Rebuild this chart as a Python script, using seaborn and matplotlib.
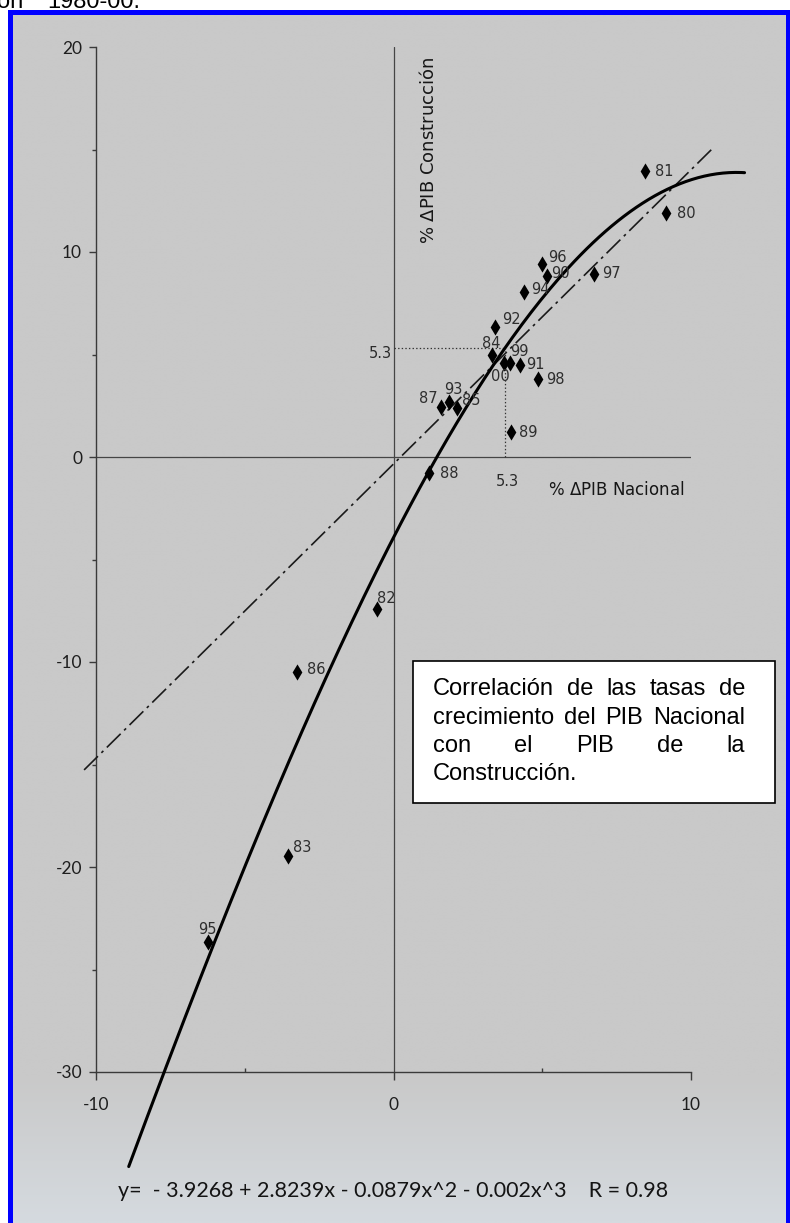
import numpy as np
import pandas as pd
import matplotlib.pyplot as plt
import seaborn as sns
from matplotlib.patches import Rectangle

# values
years = ['80', '81', '82', '83', '84', '85', '86', '87', '88', '89', '90',
         '91', '92', '93', '94', '95', '96', '97', '98', '99', '00']
pib_nacional = [9.15, 8.45, -0.55, -3.55, 3.3, 2.15, -3.25, 1.6, 1.2, 3.95, 5.15,
                4.25, 3.4, 1.85, 4.4, -6.25, 5.0, 6.75, 4.85, 3.9, 3.7]
pib_construccion = [11.9, 13.95, -7.4, -19.45, 5.0, 2.4, -10.5, 2.45, -0.8, 1.2, 8.85,
                    4.5, 6.35, 2.7, 8.05, -23.65, 9.4, 8.95, 3.8, 4.6, 4.6]

# cubic fit printed under the chart, and the dash-dot straight line
cubic_coef = [-3.9268, 2.8239, -0.0879, -0.002]
cubic_range = [-8.9, 11.8]
linear_coef = [-0.34, 1.435]
linear_range = [-10.4, 10.75]
cross_x, cross_y = 3.75, 5.3

box_lines = ['Correlación de las tasas de',
             'crecimiento del PIB Nacional',
             'con el PIB de la',
             'Construcción.']
equation = 'y=  - 3.9268 + 2.8239x - 0.0879x^2 - 0.002x^3    R = 0.98'

df = pd.DataFrame({'year': years, 'nac': pib_nacional, 'con': pib_construccion})

sns.set_theme(style='white')
plt.rcParams['font.family'] = ['DejaVu Sans']
plt.rcParams['mathtext.fontset'] = 'dejavusans'
plt.rcParams['lines.scale_dashes'] = False
plt.rcParams['axes.unicode_minus'] = False

W, H = 790, 1223
fig = plt.figure(figsize=(W / 100, H / 100), dpi=100)
fig.patch.set_facecolor('white')

# background: scanned page look, pixel coordinates
bg = fig.add_axes([0, 0, 1, 1], zorder=0)
bg.set_xlim(0, W)
bg.set_ylim(H, 0)
bg.axis('off')
t = np.linspace(0, 1, 300)
r = np.where(t < 0.88, 201, 201 + (t - 0.88) / 0.12 * 12)
g = np.where(t < 0.88, 201, 201 + (t - 0.88) / 0.12 * 17)
b = np.where(t < 0.88, 201, 201 + (t - 0.88) / 0.12 * 22)
grad = np.stack([r, g, b], axis=1)[:, None, :].repeat(2, axis=1) / 255
bg.imshow(grad, extent=(13, W, H, 15), aspect='auto', interpolation='bilinear')
for rect in [(8, 10, 5, H), (8, 10, W, 5), (786, 10, 4, H)]:
    bg.add_patch(Rectangle(rect[:2], rect[2], rect[3], color='#0000ff', lw=0))
bg.text(-3, 8, 'on', fontsize=17, family='Liberation Sans', va='baseline', color='black')
bg.text(47, 8, '1980-00.', fontsize=17, family='Liberation Sans', va='baseline', color='black')

# main chart
ax = fig.add_axes([96 / W, 1 - 1072 / H, 595 / W, 1025 / H], zorder=2)
ax.set_facecolor('none')
ax.set_xlim(-10, 10)
ax.set_ylim(-30, 20)
for s in ['top', 'right']:
    ax.spines[s].set_visible(False)
for s in ['left', 'bottom']:
    ax.spines[s].set_color('#3a3a3a')
    ax.spines[s].set_linewidth(1.0)

ax.axhline(0, color='#454545', lw=0.9, zorder=1)
ax.axvline(0, color='#454545', lw=0.9, zorder=1)

ax.set_xticks([-10, 0, 10])
ax.set_xticks([-5, 5], minor=True)
ax.set_yticks([-30, -20, -10, 0, 10, 20])
ax.set_yticks([-25, -15, -5, 5, 15], minor=True)
ax.tick_params(axis='y', which='major', direction='out', length=5, width=1,
               color='#3a3a3a', pad=5, labelsize=12.5, labelcolor='#1e1e1e', left=True)
ax.tick_params(axis='y', which='minor', direction='out', length=3, width=1,
               color='#3a3a3a', left=True)
ax.tick_params(axis='x', which='major', direction='out', length=6, width=1,
               color='#3a3a3a', pad=12, labelsize=12.5, labelcolor='#1e1e1e', bottom=True)
ax.tick_params(axis='x', which='minor', direction='in', length=3, width=1,
               color='#3a3a3a', bottom=True)
for lab in ax.get_xticklabels() + ax.get_yticklabels():
    lab.set_family('Lato')

# dash-dot straight line
lx = np.array(linear_range)
ax.plot(lx, linear_coef[0] + linear_coef[1] * lx, color='#1a1a1a', lw=1.2,
        dashes=(14, 3.5, 2, 3.5), clip_on=False, zorder=3)

# cubic curve
cx = np.linspace(cubic_range[0], cubic_range[1], 200)
cy = np.polyval(cubic_coef[::-1], cx)
sns.lineplot(x=cx, y=cy, ax=ax, color='black', lw=2.2, sort=False, zorder=4)
ax.lines[-1].set_clip_on(False)

# dotted guides for 5.3
ax.plot([0, cross_x], [cross_y, cross_y], color='#333333', lw=0.9, ls=(0, (1, 1.6)), zorder=3)
ax.plot([cross_x, cross_x], [0, cross_y], color='#333333', lw=0.9, ls=(0, (1, 1.6)), zorder=3)
ax.annotate('5.3', (0, cross_y), xytext=(-2, -5), textcoords='offset pixels',
            ha='right', va='center', fontsize=10.5, color='#2a2a2a')
ax.annotate('5.3', (cross_x, 0), xytext=(2, -25), textcoords='offset pixels',
            ha='center', va='center', fontsize=10.5, color='#2a2a2a')

# points
sns.scatterplot(data=df, x='nac', y='con', marker='d', s=68, color='black',
                edgecolor='black', linewidth=0, ax=ax, zorder=5)
ax.set_xlabel('')
ax.set_ylabel('')

label_pos = {
    '80': (11, 0, 'left'), '81': (10, 0, 'left'), '82': (0, 10, 'left'),
    '83': (5, 8, 'left'), '84': (0, 11, 'center'), '85': (5, 7, 'left'),
    '86': (10, 3, 'left'), '87': (-3, 8, 'right'), '88': (11, 0, 'left'),
    '89': (8, 0, 'left'), '90': (4, 2, 'left'), '91': (6, 0, 'left'),
    '92': (7, 7, 'left'), '93': (-4, 12, 'left'), '94': (7, 2, 'left'),
    '95': (0, 12, 'center'), '96': (6, 7, 'left'), '97': (8, 0, 'left'),
    '98': (8, 0, 'left'), '99': (1, 11, 'left'), '00': (-3, -14, 'center'),
}
for yr, xv, yv in zip(years, pib_nacional, pib_construccion):
    dx, dy, ha = label_pos[yr]
    ax.annotate(yr, (xv, yv), xytext=(dx, dy), textcoords='offset pixels',
                ha=ha, va='center', fontsize=10.5, color='#2e2e2e', zorder=6)

# axis titles inside the plot
ax.text(0.85, 20 - 0.45, r'% $\mathit{\Delta}$PIB Construcción', rotation=90,
        ha='left', va='top', fontsize=13, color='#161616')
ax.text(5.2, -1.6, r'% $\mathit{\Delta}$PIB Nacional', ha='left', va='center',
        fontsize=12, color='#161616')

# text box with justified text
bg.add_patch(Rectangle((413, 661), 362, 142, facecolor='white', edgecolor='black',
                       lw=1.2, zorder=5))
fig.canvas.draw()
renderer = fig.canvas.get_renderer()
tx0, tx1 = 433, 745
for i, line in enumerate(box_lines):
    y = 695 + i * 28.5
    words = line.split()
    if i == len(box_lines) - 1 or len(words) == 1:
        bg.text(tx0, y, line, fontsize=17, family='Liberation Sans', va='baseline',
                ha='left', color='black', zorder=6)
        continue
    widths = []
    for w in words:
        tt = bg.text(0, 0, w, fontsize=17, family='Liberation Sans')
        widths.append(tt.get_window_extent(renderer).width)
        tt.remove()
    gap = (tx1 - tx0 - sum(widths)) / (len(words) - 1)
    x = tx0
    for w, wd in zip(words, widths):
        bg.text(x, y, w, fontsize=17, family='Liberation Sans', va='baseline',
                ha='left', color='black', zorder=6)
        x += wd + gap

# equation under the chart
bg.text(118, 1197, equation, fontsize=15.5, family='Lato', va='baseline', ha='left',
        color='#141414')

fig.savefig('out.png', dpi=100)
